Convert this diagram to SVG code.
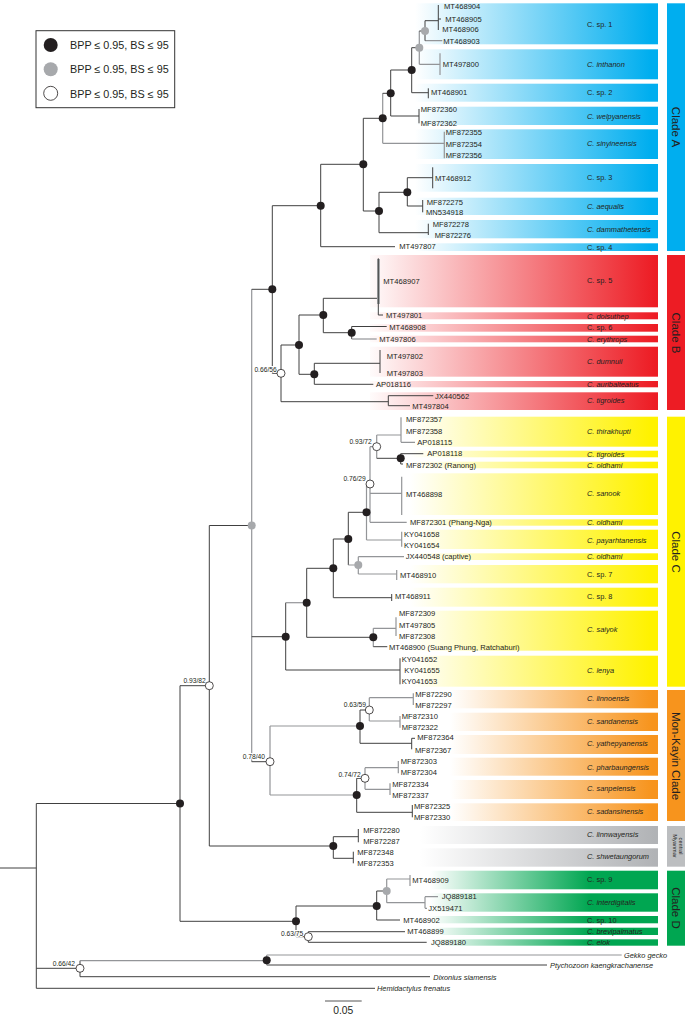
<svg xmlns="http://www.w3.org/2000/svg" width="685" height="1019" viewBox="0 0 685 1019">
<defs>
<linearGradient id="gA" gradientUnits="userSpaceOnUse" x1="415" y1="0" x2="650" y2="0"><stop offset="0" stop-color="#fff"/><stop offset="1" stop-color="#00aeef"/></linearGradient>
<linearGradient id="gB" gradientUnits="userSpaceOnUse" x1="365" y1="0" x2="655" y2="0"><stop offset="0" stop-color="#fff"/><stop offset="1" stop-color="#ed1c24"/></linearGradient>
<linearGradient id="gC" gradientUnits="userSpaceOnUse" x1="410" y1="0" x2="650" y2="0"><stop offset="0" stop-color="#fff"/><stop offset="1" stop-color="#fff200"/></linearGradient>
<linearGradient id="gM" gradientUnits="userSpaceOnUse" x1="450" y1="0" x2="652" y2="0"><stop offset="0" stop-color="#fff"/><stop offset="1" stop-color="#f7941d"/></linearGradient>
<linearGradient id="gG" gradientUnits="userSpaceOnUse" x1="420" y1="0" x2="655" y2="0"><stop offset="0" stop-color="#fff"/><stop offset="1" stop-color="#b1b3b6"/></linearGradient>
<linearGradient id="gD" gradientUnits="userSpaceOnUse" x1="430" y1="0" x2="590" y2="0"><stop offset="0" stop-color="#fff"/><stop offset="1" stop-color="#00a651"/></linearGradient>
</defs>
<style>
.e{fill:none;stroke:#404040;stroke-width:1}
.g{fill:none;stroke:#939598;stroke-width:1.2}
text{font-family:'Liberation Sans',Arial,sans-serif;fill:#231f20}
.a{font-size:7.6px}
.s{font-size:7.4px;font-style:italic}
.r{font-size:7.4px}
.n{font-size:6.7px;text-anchor:end;paint-order:stroke;stroke:#fff;stroke-width:2px}
.cl{font-size:11.5px;text-anchor:middle}
.b{fill:#231f20}
.q{fill:#a7a9ac}
.w{fill:#fff;stroke:#231f20;stroke-width:0.8}
.o{font-size:7.4px;font-style:italic}
</style>
<rect width="685" height="1019" fill="#fff"/>

<g id="legend">
<rect x="36" y="30.7" width="138.7" height="77" fill="#fff" stroke="#333" stroke-width="1"/>
<circle cx="50.7" cy="45" r="7" class="b"/>
<circle cx="50.7" cy="69.3" r="7" class="q"/>
<circle cx="50.7" cy="93.3" r="7" fill="#fff" stroke="#231f20" stroke-width="0.8"/>
<text x="70" y="49" font-size="10.8">BPP ≤ 0.95, BS ≤ 95</text>
<text x="70" y="73.3" font-size="10.8">BPP ≤ 0.95, BS ≤ 95</text>
<text x="70" y="97.5" font-size="10.8">BPP ≤ 0.95, BS ≤ 95</text>
</g>

<g id="bands-A" fill="url(#gA)">
<rect x="370" y="3.3" width="288" height="41"/>
<rect x="370" y="49.3" width="288" height="30"/>
<rect x="370" y="83.7" width="288" height="18"/>
<rect x="370" y="106.7" width="288" height="18.3"/>
<rect x="370" y="129.3" width="288" height="29.7"/>
<rect x="370" y="164" width="288" height="27.7"/>
<rect x="370" y="197.7" width="288" height="17.3"/>
<rect x="370" y="220" width="288" height="18.3"/>
<rect x="370" y="243.3" width="288" height="7.7"/>
</g>
<g id="bands-B" fill="url(#gB)">
<rect x="370" y="255" width="288" height="52.3"/>
<rect x="370" y="312.3" width="288" height="7"/>
<rect x="370" y="324" width="288" height="7.7"/>
<rect x="370" y="335.7" width="288" height="6.6"/>
<rect x="370" y="346.7" width="288" height="30"/>
<rect x="370" y="381" width="288" height="6.3"/>
<rect x="370" y="392.3" width="288" height="17.7"/>
</g>
<g id="bands-C" fill="url(#gC)">
<rect x="370" y="416.7" width="288" height="30"/>
<rect x="370" y="450.7" width="288" height="6.6"/>
<rect x="370" y="461.7" width="288" height="6.6"/>
<rect x="370" y="473.3" width="288" height="41.7"/>
<rect x="370" y="519.3" width="288" height="6.4"/>
<rect x="370" y="529.7" width="288" height="19.3"/>
<rect x="370" y="553.3" width="288" height="6.7"/>
<rect x="370" y="565" width="288" height="18.3"/>
<rect x="370" y="587.7" width="288" height="19"/>
<rect x="370" y="610.7" width="288" height="40"/>
<rect x="370" y="655.7" width="288" height="31"/>
</g>
<g id="bands-MK" fill="url(#gM)">
<rect x="370" y="690" width="288" height="18.3"/>
<rect x="370" y="712.7" width="288" height="18.3"/>
<rect x="370" y="735" width="288" height="19"/>
<rect x="370" y="757.7" width="288" height="18"/>
<rect x="370" y="780" width="288" height="19"/>
<rect x="370" y="803.3" width="288" height="17.7"/>
</g>
<g id="bands-CM" fill="url(#gG)">
<rect x="370" y="826" width="288" height="18"/>
<rect x="370" y="848.3" width="288" height="18.4"/>
</g>
<g id="bands-D" fill="url(#gD)">
<rect x="370" y="870.7" width="288" height="18.6"/>
<rect x="370" y="893.3" width="288" height="18.4"/>
<rect x="370" y="916" width="288" height="7.3"/>
<rect x="370" y="927.7" width="288" height="7.3"/>
<rect x="370" y="939.3" width="288" height="6.4"/>
</g>

<g id="clade-bars">
<rect x="667" y="3.3" width="18" height="247.7" fill="#00aeef"/>
<rect x="667" y="255" width="18" height="155" fill="#ed1c24"/>
<rect x="667" y="416.7" width="18" height="270" fill="#fff200"/>
<rect x="667" y="690" width="18" height="131" fill="#f7941d"/>
<rect x="667" y="826" width="18" height="40.7" fill="#bcbec0"/>
<rect x="667" y="870.7" width="18" height="75" fill="#00a651"/>
<text class="cl" transform="translate(672,127) rotate(90)">Clade A</text>
<text class="cl" transform="translate(672,333) rotate(90)">Clade B</text>
<text class="cl" transform="translate(672,552) rotate(90)">Clade C</text>
<text class="cl" transform="translate(672,756) rotate(90)">Mon-Kayin Clade</text>
<text class="cl" transform="translate(672,908) rotate(90)">Clade D</text>
<text font-size="5.6" text-anchor="middle" transform="translate(678.5,846) rotate(90)">central</text>
<text font-size="5.6" text-anchor="middle" transform="translate(672.5,846) rotate(90)">Myanmar</text>
</g>

<g id="connectors">
<path class="e" d="M0 868H36.3M36.3 803.5V988.3M36.3 803.5H180M36.3 968.3H80M36.3 988.3H375"/>
<path class="e" d="M80 960.7V976.7M80 976.7H430"/>
<path class="g" d="M80 960.7H266.7M266.7 955V965M266.7 955H621.7"/>
<path class="e" d="M266.7 965H547"/>
<path class="e" d="M180 685.7V921.3M180 685.7H209.3M180 921.3H296"/>
<path class="e" d="M296 906V936.7M296 906H376.7M296 936.7H308.3"/>
<path class="e" d="M376.7 891V920M376.7 891H386.7M376.7 920H400"/>
<path class="g" d="M386.7 879V902.7M386.7 879H410M410 875V886M386.7 902.7H425M425 896.7V908.3M425 896.7H438M425 908.3H427"/>
<path class="e" d="M308.3 931.7V942.3M308.3 931.7H405M308.3 942.3H426.7"/>
<path class="e" d="M209.3 525.5V846M209.3 525.5H251.7M209.3 846H333.3"/>
<path class="e" d="M333.3 836.7V858.3M333.3 836.7H358.3M358.3 829V842.3M333.3 858.3H353.3M353.3 851.7V863.3"/>
<path class="g" d="M251.7 289.3V761.7"/>
<path class="e" d="M251.7 289.3H272.3M251.7 636.7H285.7M251.7 761.7H270"/>
<path class="e" d="M272.3 205.7V373.3M272.3 205.7H320.7M272.3 373.3H281"/>
<path class="e" d="M320.7 164.3V246.7M320.7 164.3H363.3M320.7 246.7H395"/>
<path class="e" d="M363.3 118.3V211M363.3 118.3H382.7M363.3 211H379"/>
<path class="g" d="M382.7 93.3V143.3M382.7 143.3H444.3M444.3 131.7V158.3"/>
<path class="e" d="M382.7 93.3H390.7M390.7 70V116M390.7 70H411.7M390.7 116H419M419 109V123.3"/>
<path class="e" d="M411.7 47.7V92.7M411.7 47.7H419.3M411.7 92.7H428.3M428.3 88.3V98.3"/>
<path class="g" d="M419.3 31V64.3M419.3 64.3H440M440 53.3V75M425 40.7H442.3"/>
<path class="e" d="M419.3 31H425M425 20.7V40.7M425 20.7H438.3M438.3 5V30M438.3 19H441"/>
<path class="e" d="M379 192.3V232.7M379 192.3H407.3M379 232.7H428.3M428.3 223.7V235"/>
<path class="e" d="M407.3 177.7V206M407.3 177.7H432.7M432.7 167.3V188.3M407.3 206H422.7M422.7 200V212.3"/>
<path class="e" d="M281 345V401.7M281 345H299M281 401.7H388.3"/>
<path class="e" d="M299 315V374.3M299 315H323.3M299 374.3H314.3"/>
<path class="e" d="M323.3 298.3V332.7M323.3 298.3H378.3M323.3 332.7H351.7"/>
<rect x="377" y="259" width="3" height="45" fill="#a7a9ac"/>
<path class="e" d="M378.3 258.3V315M378.3 315H383"/>
<path class="e" d="M351.7 326.5V339M351.7 326.5H386.7"/>
<path class="g" d="M351.7 339H376.7"/>
<path class="e" d="M314.3 363.3V384.3M314.3 363.3H380M380 350V373M314.3 384.3H373.3"/>
<path class="e" d="M388.3 395.7V405.7M388.3 395.7H433.3M388.3 405.7H410"/>
<path class="e" d="M285.7 602.7V670M285.7 670H400M400 658.3V684.3"/>
<path class="g" d="M285.7 602.7H306.7"/>
<path class="e" d="M306.7 568.3V637.3M306.7 568.3H333.3M306.7 637.3H373.3"/>
<path class="g" d="M373.3 628.3V646.7M373.3 628.3H396M396 617.3V636"/>
<path class="e" d="M373.3 646.7H387.3"/>
<path class="e" d="M333.3 539V597.7M333.3 539H348.3M333.3 597.7H391.7M391.7 594V601"/>
<path class="e" d="M348.3 512.3V565M348.3 512.3H366.5"/>
<path class="g" d="M348.3 565H358.3M358.3 556.7V574M358.3 556.7H404M358.3 574H396.7M396.7 570V580"/>
<path class="g" d="M366.5 484V540M366.5 540H401.7M401.7 531.7V546.7"/>
<path class="g" d="M366.5 484H370M370 446.7V522.3M370 493.3H401.7M401.7 476.7V515M370 522.3H406.7"/>
<path class="g" d="M370 446.7H376.7M376.7 435V458.3M376.7 435H401M401 417.3V442.3M401 442.3H415"/>
<path class="e" d="M376.7 458.3H400.7M400.7 453.7V464M400.7 453.7H423.3M400.7 464H403"/>
<path class="g" d="M270 726V795M270 795H356.7"/>
<path class="g" d="M270 726H360"/>
<path class="e" d="M360 710V743.3M360 710H369.3M360 743.3H411.7M411.7 738.3V749.3M411.7 738.3H415"/>
<path class="g" d="M369.3 697.7V721M369.3 697.7H413.3M413.3 693.3V705M369.3 721H400M400 716V727.7"/>
<path class="e" d="M356.7 778.3V812.3M356.7 778.3H365M356.7 812.3H412.3M412.3 805V817.3"/>
<path class="g" d="M365 767.7V789.3M365 767.7H398.3M398.3 761V773.3M365 789.3H390M390 783.3V795"/>
</g>

<g id="node-ingroup"><circle cx="180" cy="803.5" r="4" class="b"/></g>
<g id="node-outgroup"><circle cx="80" cy="968.3" r="4" class="w"/><text class="n" x="75" y="965.5">0.66/42</text></g>
<g id="node-gekko"><circle cx="266.7" cy="960.3" r="4" class="b"/></g>
<g id="node-cladeD"><circle cx="296" cy="921.3" r="4" class="b"/></g>
<g id="node-D1"><circle cx="376.7" cy="906" r="4" class="b"/></g>
<g id="node-D2"><circle cx="386.7" cy="891" r="4" class="q"/></g>
<g id="node-D3"><text class="n" x="303.3" y="935.5">0.63/75</text><circle cx="308.3" cy="936.7" r="4" class="w"/></g>
<g id="node-9382"><text class="n" x="205.7" y="683">0.93/82</text><circle cx="209.3" cy="685.7" r="4" class="w"/></g>
<g id="node-CM"><circle cx="333.3" cy="846" r="4" class="b"/></g>
<g id="node-grey"><circle cx="251.7" cy="525.5" r="4" class="q"/></g>
<g id="node-AB"><circle cx="272.3" cy="289.3" r="4" class="b"/></g>
<g id="node-cladeA"><circle cx="320.7" cy="205.7" r="4" class="b"/></g>
<g id="node-A1"><circle cx="363.3" cy="164.3" r="4" class="b"/></g>
<g id="node-A2"><circle cx="382.7" cy="118.3" r="4" class="b"/></g>
<g id="node-A3"><circle cx="390.7" cy="93.3" r="4" class="b"/></g>
<g id="node-A4"><circle cx="411.7" cy="70" r="4" class="b"/></g>
<g id="node-A5"><circle cx="419.3" cy="47.7" r="4" class="q"/></g>
<g id="node-A6"><circle cx="425" cy="31" r="4" class="q"/></g>
<g id="node-A7"><circle cx="379" cy="211" r="4" class="b"/></g>
<g id="node-A8"><circle cx="407.3" cy="192.3" r="4" class="b"/></g>
<g id="node-cladeB"><text class="n" x="276.7" y="371.5">0.66/56</text><circle cx="281" cy="373.3" r="4" class="w"/></g>
<g id="node-B1"><circle cx="299" cy="345" r="4" class="b"/></g>
<g id="node-B2"><circle cx="323.3" cy="315" r="4" class="b"/></g>
<g id="node-B3"><circle cx="351.7" cy="332.7" r="4" class="b"/></g>
<g id="node-B4"><circle cx="314.3" cy="374.3" r="4" class="b"/></g>
<g id="node-cladeC"><circle cx="285.7" cy="636.7" r="4" class="b"/></g>
<g id="node-C1"><circle cx="306.7" cy="602.7" r="4" class="b"/></g>
<g id="node-C2"><circle cx="373.3" cy="637.3" r="4" class="b"/></g>
<g id="node-C3"><circle cx="333.3" cy="568.3" r="4" class="b"/></g>
<g id="node-C4"><circle cx="348.3" cy="539" r="4" class="b"/></g>
<g id="node-C5"><circle cx="358.3" cy="565" r="4" class="q"/></g>
<g id="node-C6"><circle cx="366.5" cy="512.3" r="4" class="b"/></g>
<g id="node-C7"><text class="n" x="365.7" y="481">0.76/29</text><circle cx="370" cy="484" r="4" class="w"/></g>
<g id="node-C8"><text class="n" x="371.7" y="443.5">0.93/72</text><circle cx="376.7" cy="446.7" r="4" class="w"/></g>
<g id="node-C9"><circle cx="400.7" cy="458.3" r="4" class="b"/></g>
<g id="node-MK"><text class="n" x="265" y="758.5">0.78/40</text><circle cx="270" cy="761.7" r="4" class="w"/></g>
<g id="node-MK1"><circle cx="360" cy="726" r="4" class="b"/></g>
<g id="node-MK2"><text class="n" x="366" y="707">0.63/59</text><circle cx="369.3" cy="710" r="4" class="w"/></g>
<g id="node-MK3"><circle cx="356.7" cy="795" r="4" class="b"/></g>
<g id="node-MK4"><text class="n" x="360.7" y="776.5">0.74/72</text><circle cx="365" cy="778.3" r="4" class="w"/></g>

<g id="tips-A">
<text class="a" x="444" y="9">MT468904</text>
<text class="a" x="445.3" y="21.7">MT468905</text>
<text class="a" x="442.3" y="31.7">MT468906</text>
<text class="a" x="443.3" y="43.7">MT468903</text>
<text class="a" x="442.7" y="67">MT497800</text>
<text class="a" x="431" y="95.4">MT468901</text>
<text class="a" x="420.7" y="111.7">MF872360</text>
<text class="a" x="420.7" y="126">MF872362</text>
<text class="a" x="445.7" y="135">MF872355</text>
<text class="a" x="445.7" y="146.7">MF872354</text>
<text class="a" x="445.7" y="158.4">MF872356</text>
<text class="a" x="435" y="181">MT468912</text>
<text class="a" x="426.7" y="205">MF872275</text>
<text class="a" x="426" y="215.4">MN534918</text>
<text class="a" x="432.7" y="226.7">MF872278</text>
<text class="a" x="434.7" y="237.7">MF872276</text>
<text class="a" x="399.3" y="249.4">MT497807</text>
<text class="r" x="587" y="26.7">C. sp. 1</text>
<text class="s" x="587" y="67">C. inthanon</text>
<text class="r" x="587" y="95.4">C. sp. 2</text>
<text class="s" x="587" y="118.7">C. welpyanensis</text>
<text class="s" x="587" y="146.2">C. sinyineensis</text>
<text class="r" x="587" y="179.5">C. sp. 3</text>
<text class="s" x="587" y="208.5">C. aequalis</text>
<text class="s" x="587" y="231.8">C. dammathetensis</text>
<text class="r" x="587" y="249.5">C. sp. 4</text>
</g>
<g id="tips-B">
<text class="a" x="383.3" y="284.4">MT468907</text>
<text class="a" x="386" y="317.7">MT497801</text>
<text class="a" x="389.3" y="330.4">MT468908</text>
<text class="a" x="379.3" y="341.7">MT497806</text>
<text class="a" x="386.7" y="358.7">MT497802</text>
<text class="a" x="386.7" y="376">MT497803</text>
<text class="a" x="376" y="387.4">AP018116</text>
<text class="a" x="435" y="398.7">JX440562</text>
<text class="a" x="412.3" y="409.4">MT497804</text>
<text class="r" x="587" y="282.7">C. sp. 5</text>
<text class="s" x="587" y="318.7">C. doisuthep</text>
<text class="r" x="587" y="330.4">C. sp. 6</text>
<text class="s" x="587" y="341.7">C. erythrops</text>
<text class="s" x="587" y="364.4">C. dumnuii</text>
<text class="s" x="587" y="387">C. auribalteatus</text>
<text class="s" x="587" y="403.4">C. tigroides</text>
</g>
<g id="tips-C">
<text class="a" x="406" y="421.7">MF872357</text>
<text class="a" x="406" y="433.7">MF872358</text>
<text class="a" x="417.3" y="445">AP018115</text>
<text class="a" x="427.3" y="456">AP018118</text>
<text class="a" x="406" y="467.7">MF872302 (Ranong)</text>
<text class="a" x="406" y="497">MT468898</text>
<text class="a" x="410" y="525">MF872301 (Phang-Nga)</text>
<text class="a" x="404" y="537">KY041658</text>
<text class="a" x="404" y="548.4">KY041654</text>
<text class="a" x="405.7" y="559.4">JX440548 (captive)</text>
<text class="a" x="400" y="577.7">MT468910</text>
<text class="a" x="395" y="599.4">MT468911</text>
<text class="a" x="399" y="616">MF872309</text>
<text class="a" x="399" y="627.7">MT497805</text>
<text class="a" x="399" y="639.4">MF872308</text>
<text class="a" x="389" y="650">MT468900 (Suang Phung, Ratchaburi)</text>
<text class="a" x="401.7" y="662">KY041652</text>
<text class="a" x="404.3" y="673.4">KY041655</text>
<text class="a" x="401.7" y="684.4">KY041653</text>
<text class="s" x="587" y="433.7">C. thirakhupti</text>
<text class="s" x="587" y="456.7">C. tigroides</text>
<text class="s" x="587" y="467.7">C. oldhami</text>
<text class="s" x="587" y="496">C. sanook</text>
<text class="s" x="587" y="525">C. oldhami</text>
<text class="s" x="587" y="543.4">C. payarhtanensis</text>
<text class="s" x="587" y="559.4">C. oldhami</text>
<text class="r" x="587" y="576.7">C. sp. 7</text>
<text class="r" x="587" y="599.4">C. sp. 8</text>
<text class="s" x="587" y="632">C. saiyok</text>
<text class="s" x="587" y="673.4">C. lenya</text>
</g>
<g id="tips-MK">
<text class="a" x="415.3" y="697">MF872290</text>
<text class="a" x="415.3" y="707.7">MF872297</text>
<text class="a" x="401.7" y="718.7">MF872310</text>
<text class="a" x="401.7" y="729.7">MF872322</text>
<text class="a" x="417.3" y="740.4">MF872364</text>
<text class="a" x="415" y="752.7">MF872367</text>
<text class="a" x="400.7" y="764.4">MF872303</text>
<text class="a" x="400.7" y="775">MF872304</text>
<text class="a" x="392.3" y="787">MF872334</text>
<text class="a" x="392.3" y="797.7">MF872337</text>
<text class="a" x="414" y="809.4">MF872325</text>
<text class="a" x="414" y="820.4">MF872330</text>
<text class="s" x="587" y="701">C. linnoensis</text>
<text class="s" x="587" y="724.4">C. sandanensis</text>
<text class="s" x="587" y="746">C. yathepyanensis</text>
<text class="s" x="587" y="770">C. pharbaungensis</text>
<text class="s" x="587" y="791">C. sanpelensis</text>
<text class="s" x="587" y="814.4">C. sadansinensis</text>
</g>
<g id="tips-CM">
<text class="a" x="363.3" y="832.7">MF872280</text>
<text class="a" x="363.3" y="843.7">MF872287</text>
<text class="a" x="357.3" y="854.7">MF872348</text>
<text class="a" x="357.3" y="866">MF872353</text>
<text class="s" x="587" y="836.7">C. linnwayensis</text>
<text class="s" x="587" y="859.4">C. shwetaungorum</text>
</g>
<g id="tips-D">
<text class="a" x="412.3" y="883.4">MT468909</text>
<text class="a" x="441.7" y="899.4">JQ889181</text>
<text class="a" x="428.3" y="911">JX519471</text>
<text class="a" x="403.3" y="922.7">MT468902</text>
<text class="a" x="407.3" y="934.4">MT468899</text>
<text class="a" x="431" y="945">JQ889180</text>
<text class="r" x="587" y="882">C. sp. 9</text>
<text class="s" x="587" y="905">C. interdigitalis</text>
<text class="r" x="587" y="922.7">C. sp. 10</text>
<text class="s" x="587" y="934.4">C. brevipalmatus</text>
<text class="s" x="587" y="945">C. elok</text>
</g>
<g id="tips-out">
<text class="o" x="624" y="957.7">Gekko gecko</text>
<text class="o" x="550" y="968.4">Ptychozoon kaengkrachanense</text>
<text class="o" x="433.3" y="980">Dixonius siamensis</text>
<text class="o" x="377" y="991">Hemidactylus frenatus</text>
</g>
<g id="scale">
<path d="M325 1001H361.7" stroke="#555" stroke-width="1"/>
<text x="343.3" y="1014" font-size="10.3" text-anchor="middle">0.05</text>
</g>
</svg>
